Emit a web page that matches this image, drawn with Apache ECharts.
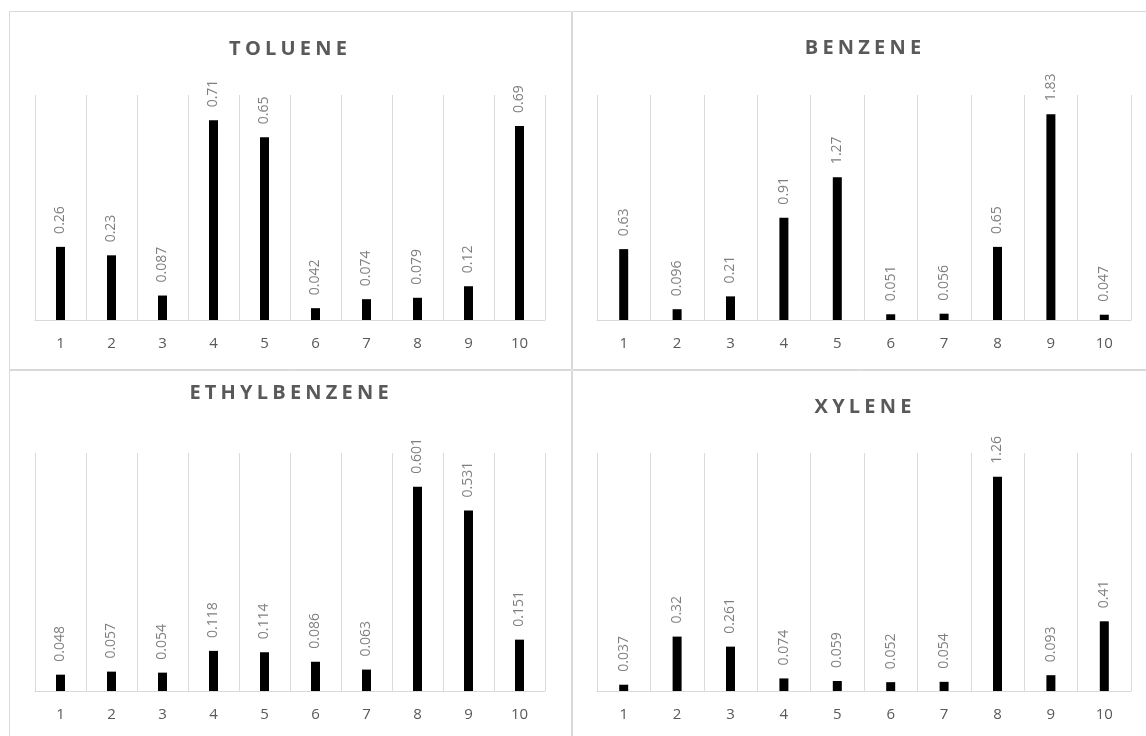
<!DOCTYPE html>
<html>
<head>
<meta charset="utf-8">
<script src="https://cdn.jsdelivr.net/npm/echarts@6/dist/echarts.min.js"></script>
<style>
  html, body { margin: 0; padding: 0; background: #ffffff; }
  #chart { width: 1146px; height: 736px; }
</style>
</head>
<body>
<div id="chart"></div>
<script>
// Sample numbers along the x axis
const samples = ['1', '2', '3', '4', '5', '6', '7', '8', '9', '10'];

// Measured concentrations per compound
const toluene      = [0.26, 0.23, 0.087, 0.71, 0.65, 0.042, 0.074, 0.079, 0.12, 0.69];
const benzene      = [0.63, 0.096, 0.21, 0.91, 1.27, 0.051, 0.056, 0.65, 1.83, 0.047];
const ethylbenzene = [0.048, 0.057, 0.054, 0.118, 0.114, 0.086, 0.063, 0.601, 0.531, 0.151];
const xylene       = [0.037, 0.32, 0.261, 0.074, 0.059, 0.052, 0.054, 1.26, 0.093, 0.41];

// Panel titles and the top of each value scale
const panelTitles = ['TOLUENE', 'BENZENE', 'ETHYLBENZENE', 'XYLENE'];
const valueAxisMax = [0.8, 2, 0.7, 1.4];

const seriesData = [toluene, benzene, ethylbenzene, xylene];

// Layout of the 2x2 panels: plot box, title centre, frame
const panels = [
  { grid: { left: 35,  top: 95,  width: 510, height: 225 }, titleX: 288, titleY: 39,  frame: { x: 9.5,   y: 11.5,  width: 562, height: 358 } },
  { grid: { left: 597, top: 95,  width: 534, height: 225 }, titleX: 863, titleY: 38,  frame: { x: 572.5, y: 11.5,  width: 600, height: 358 } },
  { grid: { left: 35,  top: 453, width: 510, height: 238 }, titleX: 289, titleY: 383, frame: { x: 9.5,   y: 370.5, width: 562, height: 400 } },
  { grid: { left: 597, top: 453, width: 534, height: 238 }, titleX: 863, titleY: 397, frame: { x: 572.5, y: 370.5, width: 600, height: 400 } }
];

const FONT = "'Open Sans', 'Liberation Sans', sans-serif";
const LINE = '#d9d9d9';

// Spread the title letters apart with per-letter padding
function spacedTitle(name) {
  return name.split('').map(ch => '{c|' + ch + '}').join('');
}

const option = {
  backgroundColor: '#ffffff',
  animation: false,
  graphic: panels.map(p => ({
    type: 'rect',
    shape: p.frame,
    style: { fill: null, stroke: LINE, lineWidth: 1 },
    silent: true,
    z: 0
  })),
  title: panels.map((p, i) => ({
    text: spacedTitle(panelTitles[i]),
    left: p.titleX,
    top: p.titleY,
    padding: 0,
    textAlign: 'center',
    textStyle: {
      rich: {
        c: {
          fontFamily: FONT,
          fontSize: 20,
          fontWeight: 'bold',
          color: '#595959',
          padding: [0, 2.1, 0, 2.1]
        }
      }
    }
  })),
  grid: panels.map(p => Object.assign({ containLabel: false }, p.grid)),
  xAxis: panels.map((p, i) => ({
    type: 'category',
    gridIndex: i,
    data: samples,
    boundaryGap: true,
    axisLine: { show: true, lineStyle: { color: LINE, width: 1 } },
    axisTick: { show: false },
    splitLine: { show: true, lineStyle: { color: LINE, width: 1 } },
    axisLabel: { color: '#595959', fontSize: 15, fontFamily: FONT, margin: 16 }
  })),
  yAxis: panels.map((p, i) => ({
    type: 'value',
    gridIndex: i,
    min: 0,
    max: valueAxisMax[i],
    show: false,
    splitLine: { show: false }
  })),
  series: seriesData.map((data, i) => ({
    type: 'bar',
    xAxisIndex: i,
    yAxisIndex: i,
    data: data,
    barWidth: 9,
    itemStyle: { color: '#000000' },
    label: {
      show: true,
      position: 'top',
      rotate: 90,
      align: 'left',
      verticalAlign: 'middle',
      distance: 13,
      fontSize: 14,
      fontFamily: FONT,
      color: '#7f7f7f'
    }
  }))
};

const chart = echarts.init(document.getElementById('chart'), null, { renderer: 'canvas' });
chart.setOption(option);
</script>
</body>
</html>
